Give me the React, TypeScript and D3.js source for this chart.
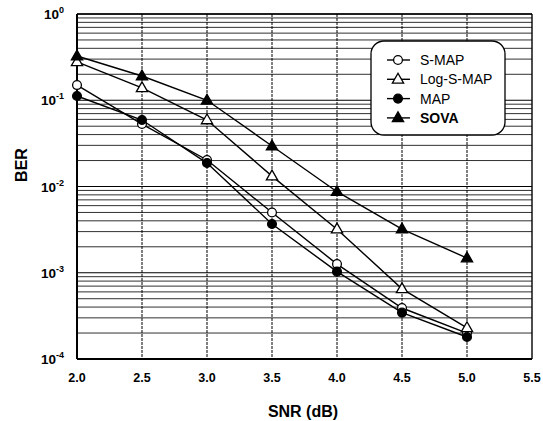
import React from 'react';
import * as d3 from 'd3';

// SNR (dB) on x, BER on log y
const snr = [2.0, 2.5, 3.0, 3.5, 4.0, 4.5, 5.0];
const smap = [0.15, 0.053, 0.0203, 0.005, 0.00126, 0.00039, 0.0002];
const logSmap = [0.278, 0.139, 0.059, 0.0132, 0.0032, 0.00065, 0.00023];
const map = [0.112, 0.059, 0.0187, 0.00367, 0.00103, 0.000345, 0.00018];
const sova = [0.326, 0.191, 0.1, 0.0295, 0.0087, 0.0032, 0.00148];

const xTicks = [2.0, 2.5, 3.0, 3.5, 4.0, 4.5, 5.0, 5.5];
const yExponents = [0, -1, -2, -3, -4];

const seriesList = [
  { name: 'S-MAP', values: smap, marker: 'circle', filled: false, bold: false },
  { name: 'Log-S-MAP', values: logSmap, marker: 'triangle', filled: false, bold: false },
  { name: 'MAP', values: map, marker: 'circle', filled: true, bold: false },
  { name: 'SOVA', values: sova, marker: 'triangle', filled: true, bold: true },
];

const W = 543;
const H = 421;
const plot = { left: 77, right: 532, top: 14, bottom: 359 };
const font = '"Liberation Sans", Arial, sans-serif';

function Marker({ x, y, type, filled }: { x: number; y: number; type: string; filled: boolean }) {
  const fill = filled ? '#000' : '#fff';
  if (type === 'circle') {
    return <circle cx={x} cy={y} r={4.4} fill={fill} stroke="#000" strokeWidth={1.3} />;
  }
  const sym = d3.symbol().type(d3.symbolTriangle).size(55)();
  return <path d={sym || ''} transform={`translate(${x},${y + 0.5})`} fill={fill} stroke="#000" strokeWidth={1.3} />;
}

export default function App() {
  const x = d3.scaleLinear().domain([2, 5.5]).range([plot.left, plot.right]);
  const y = d3.scaleLog().domain([1e-4, 1]).range([plot.bottom, plot.top]);

  // minor grid: 2..9 of each decade
  const minor: number[] = [];
  for (let e = -4; e < 0; e++) {
    for (let m = 2; m <= 9; m++) minor.push(m * Math.pow(10, e));
  }

  const line = d3.line<number>()
    .x((_, i) => x(snr[i]))
    .y(d => y(d));

  const legend = { x: 371, y: 41, w: 134, h: 94 };

  return (
    <svg width={W} height={H} style={{ position: 'fixed', left: 0, top: 0, background: '#fff' }} fontFamily={font}>
      <rect x={0} y={0} width={W} height={H} fill="#fff" />

      {/* horizontal grid */}
      {minor.map((v, i) => (
        <line key={'m' + i} x1={plot.left} x2={plot.right} y1={y(v)} y2={y(v)} stroke="#1a1a1a" strokeWidth={0.9} />
      ))}
      {yExponents.map(e => (
        <line key={'M' + e} x1={plot.left} x2={plot.right} y1={y(Math.pow(10, e))} y2={y(Math.pow(10, e))} stroke="#000" strokeWidth={1} />
      ))}

      {/* vertical grid */}
      {xTicks.slice(1, -1).map(t => (
        <line key={'v' + t} x1={x(t)} x2={x(t)} y1={plot.top} y2={plot.bottom} stroke="#000" strokeWidth={1} strokeDasharray="3,1" />
      ))}

      {/* frame */}
      <line x1={plot.left} x2={plot.right} y1={plot.top} y2={plot.top} stroke="#000" strokeWidth={1.6} />
      <line x1={plot.right} x2={plot.right} y1={plot.top} y2={plot.bottom} stroke="#000" strokeWidth={1.4} />
      <line x1={plot.left} x2={plot.right} y1={plot.bottom} y2={plot.bottom} stroke="#000" strokeWidth={2} />
      <line x1={plot.left} x2={plot.left} y1={plot.top} y2={plot.bottom} stroke="#000" strokeWidth={2} />

      {/* series */}
      {seriesList.map(s => (
        <g key={s.name}>
          <path d={line(s.values) || ''} fill="none" stroke="#000" strokeWidth={1.4} />
          {s.values.map((v, i) => (
            <Marker key={i} x={x(snr[i])} y={y(v)} type={s.marker} filled={s.filled} />
          ))}
        </g>
      ))}

      {/* legend */}
      <rect x={legend.x} y={legend.y} width={legend.w} height={legend.h} rx={13} fill="#fff" stroke="#000" strokeWidth={1.3} />
      {seriesList.map((s, i) => {
        const ly = 60 + i * 19.3;
        return (
          <g key={'lg' + s.name}>
            <line x1={387} x2={410} y1={ly} y2={ly} stroke="#000" strokeWidth={1.4} />
            <Marker x={398} y={ly} type={s.marker} filled={s.filled} />
            <text x={420} y={ly + 5} fontSize={14} fontWeight={s.bold ? 'bold' : 'normal'} fill="#000">{s.name}</text>
          </g>
        );
      })}

      {/* x tick labels */}
      {xTicks.map(t => (
        <text key={'xt' + t} x={x(t)} y={382} textAnchor="middle" fontSize={12.5} fontWeight="bold" fill="#000">
          {t.toFixed(1)}
        </text>
      ))}

      {/* y tick labels */}
      {yExponents.map(e => (
        <text key={'yt' + e} x={64} y={y(Math.pow(10, e)) + 5} textAnchor="end" fontSize={13.5} fontWeight="bold" fill="#000">
          10
          <tspan dy={-6} fontSize={9}>{e}</tspan>
        </text>
      ))}

      {/* axis titles */}
      <text x={303} y={417} textAnchor="middle" fontSize={16} fontWeight="bold" fill="#000">SNR (dB)</text>
      <text transform={`translate(27,165) rotate(-90)`} textAnchor="middle" fontSize={16} fontWeight="bold" fill="#000">BER</text>
    </svg>
  );
}
